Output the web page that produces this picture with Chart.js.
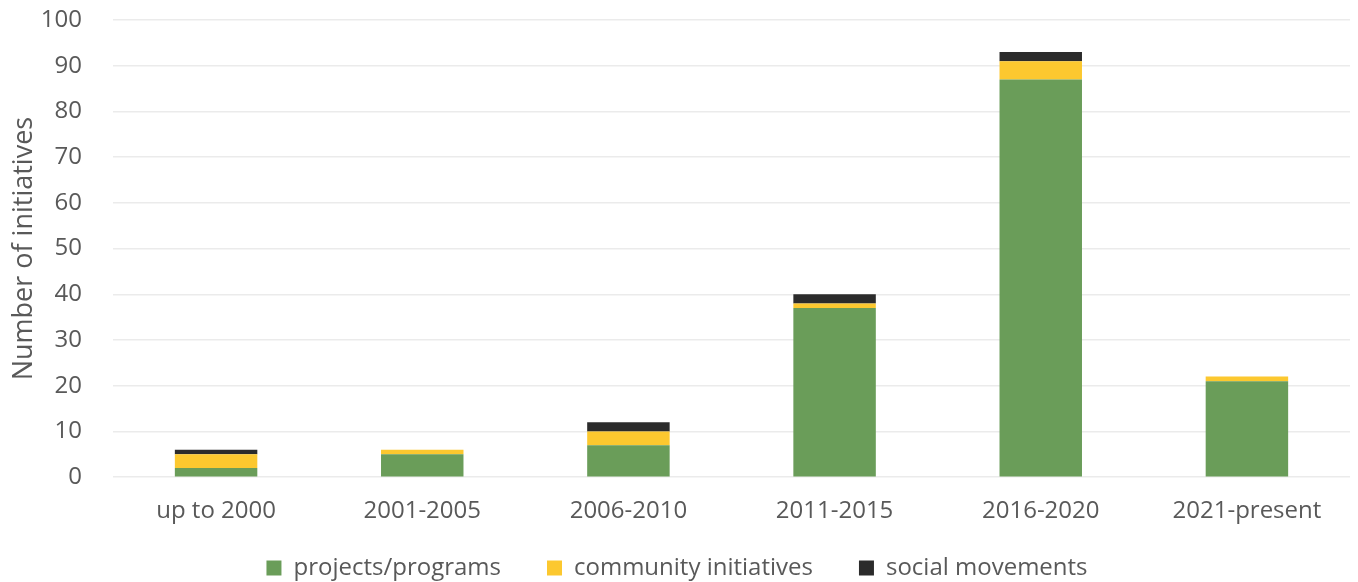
<!DOCTYPE html>
<html>
<head>
<meta charset="utf-8">
<script src="https://cdn.jsdelivr.net/npm/chart.js@4/dist/chart.umd.min.js"></script>
<style>
  html, body { margin: 0; padding: 0; background: #fff; }
  #wrap { width: 1358px; height: 582px; position: relative; }
</style>
</head>
<body>
<div id="wrap"><canvas id="chart"></canvas></div>
<script>
'use strict';

var periods = ['up to 2000', '2001-2005', '2006-2010', '2011-2015', '2016-2020', '2021-present'];
var projects = [2, 5, 7, 37, 87, 21];
var community = [3, 1, 3, 1, 4, 1];
var movements = [1, 0, 2, 2, 2, 0];
var yTicks = [0, 10, 20, 30, 40, 50, 60, 70, 80, 90, 100];

var textColor = '#595959';
var fontFamily = '"Open Sans", sans-serif';

var createDataset = function (label, data, color) {
  return {
    label: label, data: data,
    backgroundColor: color, borderWidth: 0,
    categoryPercentage: 1.0, barPercentage: 0.4
  };
};

// legend keeps wide spacing between items but takes less room under the axis
var legendShrink = 36, legendShift = 28;
var tightLegend = {
  id: 'tightLegend',
  beforeInit: function (chart) {
    var legend = chart.legend;
    var fit = legend.fit, draw = legend.draw;
    legend.fit = function () {
      fit.call(this);
      this.height -= legendShrink;
    };
    legend.draw = function () {
      var top = this.top;
      this.top = top - legendShift;
      draw.apply(this, arguments);
      this.top = top;
    };
  }
};

new Chart(document.querySelector('#chart'), {
  type: 'bar',
  data: {
    labels: periods,
    datasets: [
      createDataset('projects/programs', projects, '#6a9d59'),
      createDataset('community initiatives', community, '#fcc82f'),
      createDataset('social movements', movements, '#2b2b2b')
    ]
  },
  options: {
    responsive: true, maintainAspectRatio: false, animation: false,
    layout: { padding: { left: 4, right: 8, top: 0, bottom: 0 } },
    plugins: {
      tooltip: { enabled: false },
      legend: {
        position: 'bottom',
        labels: {
          color: textColor, font: { family: fontFamily, size: 24 },
          boxWidth: 15, boxHeight: 15, padding: 46
        }
      }
    },
    scales: {
      x: {
        stacked: true,
        grid: { display: false },
        border: { display: false },
        ticks: { color: textColor, font: { family: fontFamily, size: 24 }, padding: 12 }
      },
      y: {
        stacked: true, min: 0, max: 100,
        afterBuildTicks: function (axis) { axis.ticks = yTicks.map(function (v) { return { value: v }; }); },
        afterFit: function (axis) { axis.paddingTop = 20; axis.width = 109; },
        grid: { color: '#ebebeb', lineWidth: 1.5, drawTicks: false },
        border: { display: false },
        ticks: { color: textColor, font: { family: fontFamily, size: 24 }, padding: 31 },
        title: {
          display: true, text: 'Number of initiatives',
          color: textColor, font: { family: fontFamily, size: 27 }, padding: { bottom: 2 }
        }
      }
    }
  },
  plugins: [tightLegend]
});
</script>
</body>
</html>
